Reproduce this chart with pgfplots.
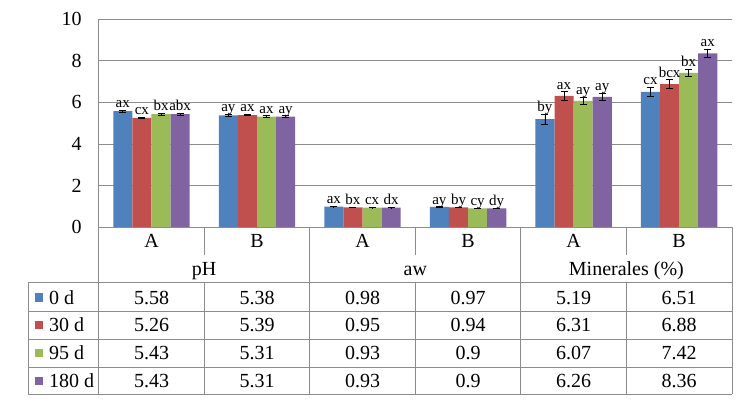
\documentclass[border=0pt]{standalone}
\usepackage{fontspec}
\setmainfont{Liberation Serif}
\usepackage{pgfplots}
\usepackage{pgfplotstable}
\pgfplotsset{compat=1.18}

\definecolor{c0}{HTML}{4F81BD}
\definecolor{c30}{HTML}{C0504D}
\definecolor{c95}{HTML}{9BBB59}
\definecolor{c180}{HTML}{8064A2}
\definecolor{rule}{HTML}{8C8C8C}

\newcommand\tabfont{\fontsize{20bp}{22bp}\selectfont}
\newcommand\labfont{\fontsize{15bp}{17bp}\selectfont}

% one row per category column (A/B for pH, aw, Minerales), x = column centre
\pgfplotstableread{
x   v0   e0   l0  v30  e30  l30  v95  e95  l95  v180 e180 l180
0.5 5.58 0.05 ax  5.26 0.04 cx   5.43 0.04 bx   5.43 0.05 abx
1.5 5.38 0.04 ay  5.39 0.04 ax   5.31 0.04 ax   5.31 0.05 ay
2.5 0.98 0.01 ax  0.95 0.01 bx   0.93 0.01 cx   0.93 0.01 dx
3.5 0.97 0.01 ay  0.94 0.01 by   0.9  0.01 cy   0.9  0.01 dy
4.5 5.19 0.23 by  6.31 0.21 ax   6.07 0.18 ay   6.26 0.17 ay
5.5 6.51 0.22 cx  6.88 0.21 bcx  7.42 0.19 bx   8.36 0.19 ax
}\data

% #1 series key, #2 x offset, #3 colour
\newcommand\series[3]{%
  \addplot[ybar, bar shift=0pt, bar width=0.181, fill=#3, draw=none,
    error bars/.cd, y dir=both, y explicit,
    error bar style={black, line width=0.8bp},
    error mark options={rotate=90, mark size=3.5bp, black, line width=0.8bp}]
    table[x expr=\thisrow{x}+#2, y=v#1, y error=e#1]{\data};
  \addplot[only marks, mark=none, nodes near coords, point meta=explicit symbolic,
    nodes near coords style={anchor=base, font=\labfont, yshift=2.5bp, inner sep=0pt}]
    table[x expr=\thisrow{x}+#2, y expr=\thisrow{v#1}+\thisrow{e#1}, meta=l#1]{\data};
}

\begin{document}
\begin{tikzpicture}
\useasboundingbox (0,0) rectangle (750bp,-403bp);
\begin{axis}[
  at={(98.7bp,-227bp)}, anchor=south west,
  scale only axis, width=633.2bp, height=207.7bp,
  xmin=0, xmax=6, ymin=0, ymax=10,
  ytick={0,2,4,6,8,10}, xtick=\empty,
  ymajorgrids, grid style={rule, line width=0.8bp},
  axis line style={draw=none}, major tick length=0pt,
  /pgf/number format/assume math mode=true,
  yticklabel style={font=\tabfont, inner sep=0pt, xshift=-17bp},
  clip=false,
]
\series{0}{-0.2715}{c0}
\series{30}{-0.0905}{c30}
\series{95}{0.0905}{c95}
\series{180}{0.2715}{c180}
\end{axis}

\begin{scope}[x=1bp, y=-1bp, rule, line width=0.8bp]
  \draw (98.7,19) -- (98.7,394);
  \draw (98.7,227) -- (731.9,227);
  \foreach \x in {204.2,415.3,626.4} \draw (\x,227) -- (\x,255);
  \foreach \x in {309.8,520.8,731.9} \draw (\x,227) -- (\x,394);
  \foreach \x in {204.2,415.3,626.4} \draw (\x,282) -- (\x,394);
  \draw (28,282) -- (28,394);
  \foreach \y in {282,311,339,367,394} \draw (28,\y) -- (731.9,\y);
\end{scope}

\begin{scope}[x=1bp, y=-1bp, every node/.style={font=\tabfont, inner sep=0pt, anchor=base}]
  \foreach \c/\t in {0/A,1/B,2/A,3/B,4/A,5/B}
    \node at ({151.5+105.53*\c},247.5) {\t};
  \node at (204.2,275.7) {pH};
  \node at (415.3,275.7) {aw};
  \node at (626.4,275.7) {Minerales (\%)};
  \foreach \s/\r/\col in {0/304/c0,30/331.7/c30,95/359.3/c95,180/387.3/c180}{
    \fill[\col] (35,\r-2.5) rectangle (43.3,\r-10.8);
    \node[anchor=base west] at (49,\r) {\s\ d};
    \foreach \c in {0,...,5}{
      \pgfplotstablegetelem{\c}{v\s}\of\data
      \node at ({151.5+105.53*\c},\r) {\pgfplotsretval};
    }
  }
\end{scope}
\end{tikzpicture}
\end{document}
